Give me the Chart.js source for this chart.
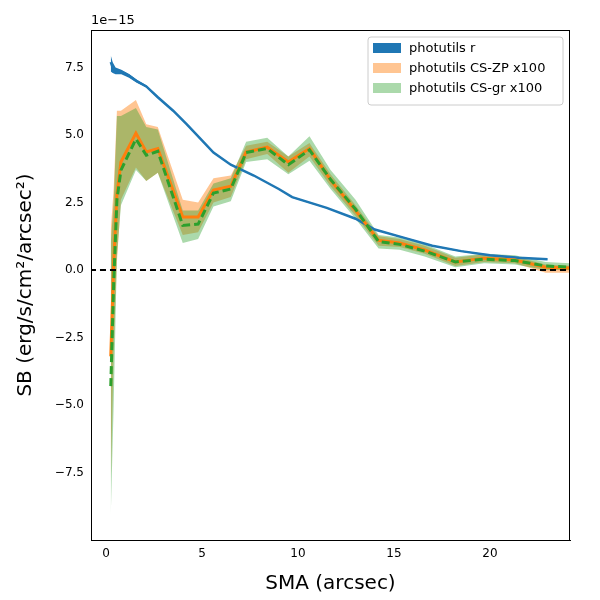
<!DOCTYPE html>
<html><head><script src="https://cdn.jsdelivr.net/npm/chart.js@4"></script>
<style>body{margin:0;background:#fff}#w{width:600px;height:600px}</style></head>
<body><div id="w"><canvas id="c"></canvas></div>
<script>
const xs=[0.25,0.4,0.57,0.78,1.56,2.1,2.7,4.0,4.8,5.6,6.5,7.3,8.4,9.5,10.6,11.7,13.0,14.2,15.3,16.6,18.2,19.7,21.3,22.9,24.3];
const zp=[-3.2,0.2,2.8,4.0,5.07,4.37,4.5,1.96,1.96,2.96,3.1,4.37,4.55,4.0,4.5,3.33,2.2,1.1,1.0,0.74,0.3,0.44,0.37,0.1,0.07];
const zpUp=[1.5,3,5.9,5.9,6.3,5.4,5.3,2.6,2.5,3.4,3.5,4.6,4.75,4.2,4.7,3.55,2.4,1.25,1.15,0.9,0.45,0.58,0.5,0.2,0.15];
const zpLo=[-8,-3,0.3,2.6,3.8,3.3,3.6,1.3,1.4,2.5,2.7,4.1,4.3,3.6,4.2,3.1,2.0,0.9,0.85,0.6,0.15,0.3,0.25,-0.1,-0.1];
const gr=[-4.3,-0.5,2.6,3.7,4.85,4.25,4.4,1.65,1.7,2.85,3.0,4.35,4.5,3.9,4.45,3.35,2.25,1.05,0.95,0.7,0.3,0.4,0.35,0.15,0.1];
const grUp=[1.0,2.5,5.7,5.7,6.0,5.3,5.2,2.2,2.2,3.2,3.4,4.75,4.9,4.2,4.95,3.7,2.6,1.3,1.2,0.95,0.5,0.6,0.55,0.3,0.25];
const grLo=[-9.1,-5,0.5,2.4,3.7,3.3,3.6,1.0,1.15,2.35,2.55,4.0,4.1,3.55,4.05,3.0,1.9,0.8,0.75,0.5,0.1,0.25,0.2,0.0,0.0];
const bx=[0.25,0.35,0.5,0.8,1.2,1.6,2.1,2.7,3.5,4.2,5,5.6,6.5,7.7,9,9.7,11.5,13,14,15.5,17,18.5,20,21.5,23];
const blue=[7.7,7.5,7.4,7.35,7.2,7.0,6.8,6.4,5.9,5.4,4.8,4.35,3.9,3.5,3.0,2.7,2.3,1.9,1.5,1.2,0.9,0.7,0.55,0.45,0.4];
const blueUp=[7.95,7.7,7.5,7.42,7.26,7.05,6.84,6.44,5.93,5.43,4.82,4.37,3.92,3.52,3.02,2.72,2.32,1.92,1.52,1.22,0.92,0.72,0.57,0.47,0.42];
const blueLo=[7.35,7.3,7.25,7.25,7.12,6.94,6.76,6.36,5.87,5.37,4.78,4.33,3.88,3.48,2.98,2.68,2.28,1.88,1.48,1.18,0.88,0.68,0.53,0.43,0.38];
const xTicks=[0,5,10,15,20];
const yTicks=[-7.5,-5,-2.5,0,2.5,5,7.5];
const legendLabels=['photutils r','photutils CS-ZP x100','photutils CS-gr x100'];
const pts=(x,y)=>x.map((v,i)=>({x:v,y:y[i]}));
const band=(x,y,c,fill,o)=>({data:pts(x,y),borderWidth:0,pointRadius:0,backgroundColor:c,fill:fill,tension:0,order:o});
const ds=[
 band(bx,blueUp,'rgba(31,119,180,1)','+1',10), band(bx,blueLo,'rgba(0,0,0,0)',false,10),
 band(xs,zpUp,'rgba(255,127,14,0.45)','+1',9), band(xs,zpLo,'rgba(0,0,0,0)',false,9),
 band(xs,grUp,'rgba(44,160,44,0.4)','+1',8), band(xs,grLo,'rgba(0,0,0,0)',false,8),
 {data:pts(bx,blue),borderColor:'#1f77b4',borderWidth:2.5,pointRadius:0,fill:false,order:4},
 {data:pts(xs,zp),borderColor:'#ff7f0e',borderWidth:3,pointRadius:0,fill:false,order:3},
 {data:pts(xs,gr),borderColor:'#2ca02c',borderWidth:3,borderDash:[8,4],pointRadius:0,fill:false,order:2},
 {data:[{x:-5,y:0},{x:30,y:0}],borderColor:'#000',borderWidth:1.8,borderDash:[6,4],pointRadius:0,fill:false,order:1}
];
const extra={id:'extra',afterDraw(ch){const c=ch.ctx,a=ch.chartArea;c.save();
 c.strokeStyle='#000';c.lineWidth=1;c.strokeRect(a.left+0.5,a.top+0.5,a.right-a.left-1,a.bottom-a.top);
 c.font='13px "DejaVu Sans"';c.fillStyle='#000';c.textBaseline='alphabetic';c.fillText('1e\u221215',a.left,24);
 const lx=368,ly=37,w=195,h=68;c.fillStyle='rgba(255,255,255,0.8)';c.strokeStyle='#ccc';c.lineWidth=1;
 c.beginPath();c.roundRect(lx,ly,w,h,3);c.fill();c.stroke();
 const cols=['#1f77b4','rgba(255,127,14,0.45)','rgba(44,160,44,0.4)'];
 c.textBaseline='middle';
 legendLabels.forEach((t,i)=>{const y=ly+11+i*20;c.fillStyle=cols[i];c.fillRect(lx+5,y-5,28,10);c.fillStyle='#000';c.fillText(t,lx+41,y+1);});
 c.restore();}};
new Chart(document.getElementById('c'),{type:'line',data:{datasets:ds},plugins:[extra],
options:{responsive:true,maintainAspectRatio:false,animation:false,
layout:{padding:{top:30,right:30,bottom:0,left:10}},
plugins:{legend:{display:false},tooltip:{enabled:false}},
scales:{
x:{type:'linear',min:-0.78,max:24.17,grid:{display:false,drawTicks:true,tickLength:4},border:{color:'#000',width:1},
 afterBuildTicks(s){s.ticks=xTicks.map(v=>({value:v}));},
 ticks:{color:'#000',font:{size:12,family:'DejaVu Sans'},callback:v=>String(v)},
 title:{display:true,text:'SMA (arcsec)',color:'#000',font:{size:20,family:'DejaVu Sans'},padding:{top:0}},
 afterFit(s){s.height=60;}},
y:{min:-10.0,max:8.89,grid:{display:false,tickLength:4},border:{color:'#000',width:1},
 afterBuildTicks(s){s.ticks=yTicks.map(v=>({value:v}));},
 ticks:{color:'#000',font:{size:12,family:'DejaVu Sans'},callback:v=>v.toFixed(1).replace('-','\u2212')},
 title:{display:true,text:'SB (erg/s/cm\u00b2/arcsec\u00b2)',color:'#000',font:{size:20,family:'DejaVu Sans'},padding:{bottom:0}},
 afterFit(s){s.width=81;}}
}}});
</script></body></html>
